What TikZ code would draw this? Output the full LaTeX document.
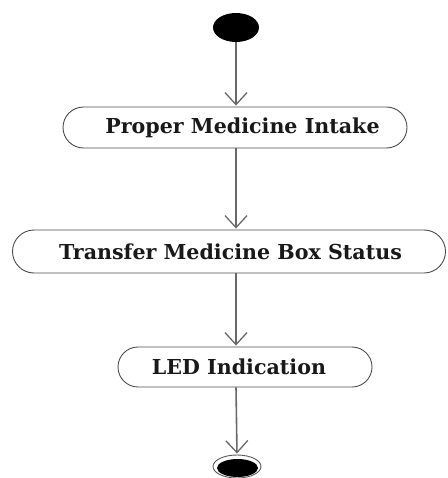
\documentclass[tikz,border=0pt]{standalone}
\usepackage{fontspec}
\setmainfont{DejaVu Serif}
\usetikzlibrary{arrows.meta,shapes.misc,shapes.geometric}
\definecolor{edgegray}{RGB}{105,105,105}
\tikzset{
  activity/.style={draw=black!70, line width=0.9pt, rounded rectangle, inner sep=0pt,
    font=\bfseries\fontsize{20.6}{24}\selectfont, text=black!90},
  flow/.style={draw=edgegray, line width=1.6pt, shorten >=1pt,
    -{Straight Barb[length=12pt,width=22pt,line width=1.3pt]}},
}
\begin{document}
\begin{tikzpicture}[x=1pt,y=-1pt]
\useasboundingbox (0,0) rectangle (447,478);
% initial state
\node[ellipse, fill=black, minimum width=46pt, minimum height=29pt, inner sep=0pt] (start) at (236,27.5) {};
% activities (labels sit a little off the centre of their boxes)
\node[activity, minimum width=344pt, minimum height=41pt] (a1) at (235,127.5) {\hspace*{15pt}Proper Medicine Intake};
\node[activity, minimum width=433pt, minimum height=43pt] (a2) at (229,251.5) {\hspace*{3pt}Transfer Medicine Box Status};
\node[activity, minimum width=254pt, minimum height=40pt] (a3) at (245,367) {LED Indication\hspace*{12pt}};
% final state
\node[ellipse, draw=black!65, line width=0.9pt, minimum width=48pt, minimum height=23pt, inner sep=0pt] (stop) at (237,466.5) {};
\node[ellipse, fill=black, minimum width=41pt, minimum height=18pt, inner sep=0pt] (stopdot) at (237.5,468) {};
% transitions
\coordinate (t1) at (start.south |- a1.north);
\coordinate (s2) at (start.south |- a1.south);
\coordinate (t2) at (start.south |- a2.north);
\coordinate (s3) at (start.south |- a2.south);
\coordinate (t3) at (start.south |- a3.north);
\coordinate (s4) at (start.south |- a3.south);
\draw[flow] (start.south) -- (t1);
\draw[flow] (s2) -- (t2);
\draw[flow] (s3) -- (t3);
\draw[flow] (s4) -- (stop.north);
\end{tikzpicture}
\end{document}
